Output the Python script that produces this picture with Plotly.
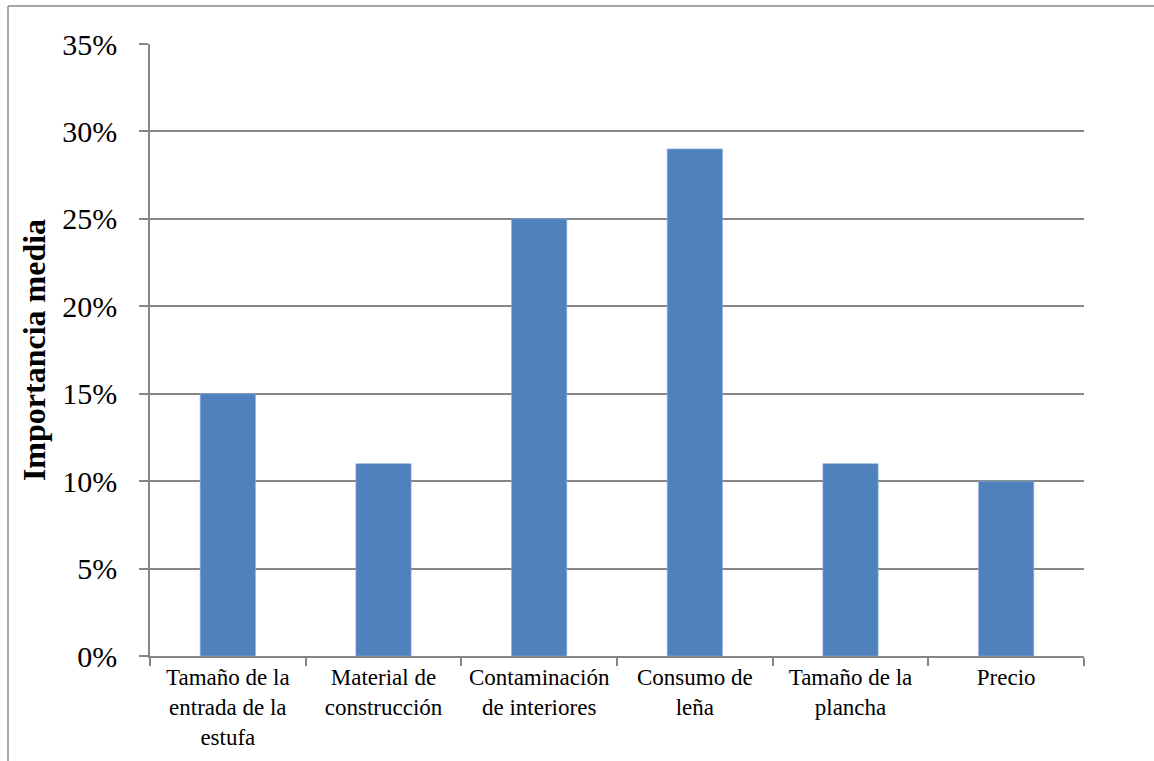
import plotly.graph_objects as go

categories = ["Tamaño de la<br>entrada de la<br>estufa", "Material de<br>construcción",
              "Contaminación<br>de interiores", "Consumo de<br>leña", "Tamaño de la<br>plancha", "Precio"]
values = [15, 11, 25, 29, 11, 10]
y_ticks = [0, 5, 10, 15, 20, 25, 30, 35]

W, H = 1154, 761
L, R, T, B = 150, 70, 44, 105
pw, ph = W - L - R, H - T - B

SERIF = "Liberation Serif, Times New Roman, serif"

fig = go.Figure(go.Bar(
    x=categories, y=values,
    marker=dict(color="#4F81BD", line=dict(color="#8FB0DA", width=0.6)),
    width=0.355,
))

grid = "#868686"
fig.update_layout(
    width=W, height=H,
    margin=dict(l=L, r=R, t=T, b=B),
    paper_bgcolor="white", plot_bgcolor="white",
    font=dict(family=SERIF, color="black"),
    showlegend=False,
    xaxis=dict(
        showline=True, linecolor=grid, linewidth=1.5,
        ticks="outside", tickson="boundaries", ticklen=8, tickcolor=grid, tickwidth=1.5,
        tickfont=dict(family=SERIF, size=23, color="black"), showgrid=False,
        automargin=False,
    ),
    yaxis=dict(
        range=[0, 35], tickvals=y_ticks, ticktext=[f"{v}%" for v in y_ticks],
        showline=True, linecolor=grid, linewidth=1.5,
        showgrid=True, gridcolor=grid, gridwidth=1.5,
        ticks="outside", ticklen=9, tickcolor=grid, tickwidth=1.5,
        tickfont=dict(family=SERIF, size=30, color="black"), ticklabelstandoff=16,
        title=dict(text="<b>Importancia media</b>", font=dict(family=SERIF, size=32, color="black"), standoff=7),
        zeroline=False, automargin=False,
    ),
)

# outer chart-area border (top and left edges visible)
x0 = (8 - L) / pw
y_top = 1 + (T - 6) / ph
x_right = (W + 5 - L) / pw
y_bot = -(H + 5 - (T + ph)) / ph
fig.add_shape(type="line", xref="paper", yref="paper", x0=x0, x1=x_right, y0=y_top, y1=y_top,
              line=dict(color="#8a8a8a", width=1.5))
fig.add_shape(type="line", xref="paper", yref="paper", x0=x0, x1=x0, y0=y_bot, y1=y_top,
              line=dict(color="#8a8a8a", width=1.5))

fig.write_html("out.html")
